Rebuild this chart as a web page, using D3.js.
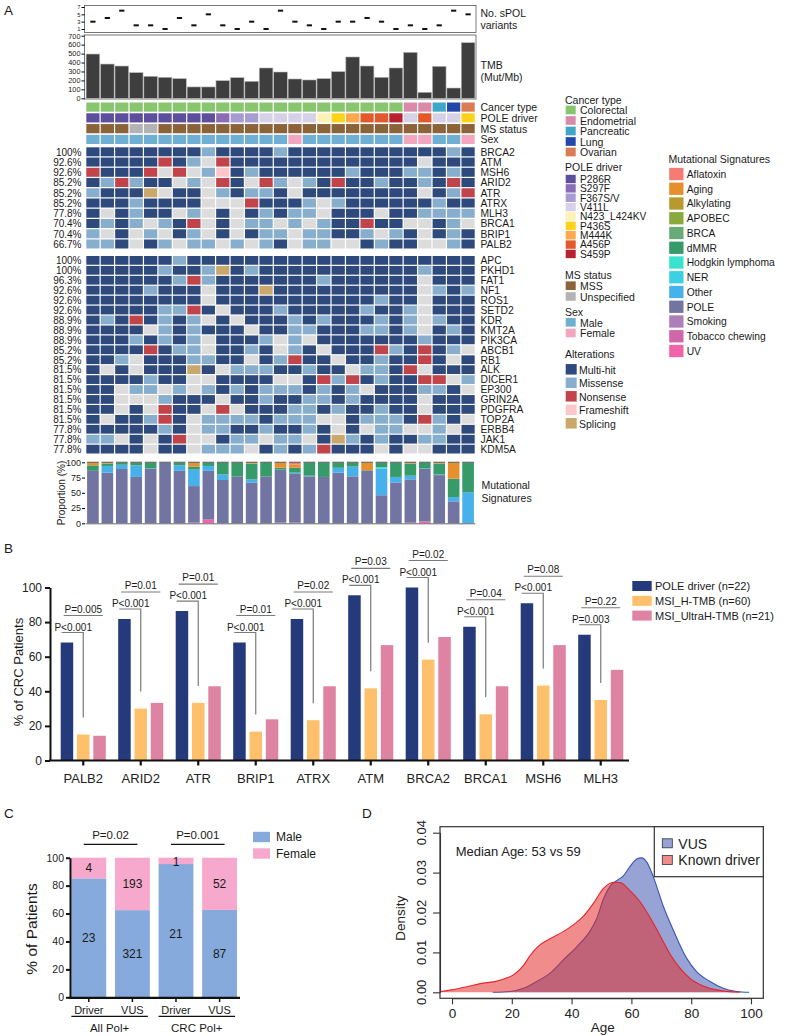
<!DOCTYPE html>
<html><head><meta charset="utf-8">
<script src="https://cdn.jsdelivr.net/npm/d3@7"></script>
<style>body{margin:0;background:#fff}svg{display:block}</style>
</head><body><svg id="chart"></svg>
<script>
// ---------------- DATA ----------------
const spolVariants = [3,4,6,2,2,1,4,2,5,2,1,3,1,6,3,2,1,3,3,4,3,1,2,1,2,6,5];
const tmb = [495,383,361,287,246,235,220,127,127,197,231,190,339,294,216,205,220,298,462,361,235,339,514,67,357,115,622];
const spolTicks = [1,3,5,7];
const tmbTicks = [0,100,200,300,400,500,600,700];
const cancerType = ['Colorectal','Colorectal','Colorectal','Colorectal','Colorectal','Colorectal','Colorectal','Colorectal','Colorectal','Colorectal','Colorectal','Colorectal','Colorectal','Colorectal','Colorectal','Colorectal','Colorectal','Colorectal','Colorectal','Colorectal','Colorectal','Colorectal','Endometrial','Endometrial','Pancreatic','Lung','Ovarian'];
const poleDriver = ['P286R','P286R','P286R','P286R','P286R','P286R','P286R','P286R','P286R','S297F','F367S/V','F367S/V','V411L','V411L','V411L','V411L','N423_L424KV','P436S','M444K','A456P','A456P','S459P','V411L','A456P','V411L','V411L','P436S'];
const msStatus = ['MSS','MSS','MSS','Unspecified','Unspecified','MSS','MSS','MSS','MSS','MSS','MSS','MSS','MSS','MSS','MSS','MSS','MSS','MSS','MSS','MSS','MSS','MSS','MSS','MSS','MSS','MSS','MSS'];
const sex = ['Male','Male','Male','Male','Male','Male','Male','Male','Male','Male','Male','Male','Male','Male','Female','Male','Male','Male','Male','Male','Male','Male','Female','Female','Male','Male','Female'];

const genes1 = ['BRCA2','ATM','MSH6','ARID2','ATR','ATRX','MLH3','BRCA1','BRIP1','PALB2'];
const pct1 = ['100%','92.6%','92.6%','85.2%','85.2%','85.2%','77.8%','70.4%','70.4%','66.7%'];
// M=Multi-hit S=Missense N=Nonsense F=Frameshift P=Splicing 0=none
const alt1 = [
'MMMMMMMMSMMMMSMMMMMMMMMMMSM',
'MMMMMNMS0NMMMMMMMMMMMMM0MMM',
'NMMMN0N0SFMSMMMMMMSMMMSSMSM',
'MSNSMM0S0NM0NS0SMNMMSMMSMNM',
'SMMMP0MM0SMSSM0MMMMMMMM0MSN',
'MMMSMMMM000NMMMS0SMMMMMMSMM',
'M0MSMM0S0M0MSMSS0MMM0MMSSSS',
'MSMS0SMN0M0SS0S0SMMNMM00MS0',
'S0M0S0MS0M0MSS0SSMMS0SM0MSM',
'SSM0MS0SS0S0SM0SS00MSMM00SM'];
const genes2 = ['APC','PKHD1','FAT1','NF1','ROS1','SETD2','KDR','KMT2A','PIK3CA','ABCB1','RB1','ALK','DICER1','EP300','GRIN2A','PDGFRA','TOP2A','ERBB4','JAK1','KDM5A'];
const pct2 = ['100%','100%','96.3%','92.6%','92.6%','92.6%','88.9%','88.9%','88.9%','85.2%','85.2%','81.5%','81.5%','81.5%','81.5%','81.5%','81.5%','77.8%','77.8%','77.8%'];
const alt2 = [
'MMMMMMSMMMMMMMMMMMMMMMMMMMM',
'MMMMMSMMSPMSMMMMMMMMMMMSMMM',
'MMMMMMSNSMMMMMMMSMMMMMM0MMM',
'MMMMSMMM0MMMPMMMMMMMMMM0SMS',
'MMMMMMMM0MMMMMMMMMMMSMM0MMM',
'MMMMMSSNM0MMMSMMMMMSMMS0MMM',
'MSMNMSMS0M0MMMSMSMMMSMS0SMM',
'MMMM0SMSMMM0MMSSMMMSSMS0MSM',
'MMMSMSMS0MMMS0S0MMMMMMMSMMM',
'MMMMNMSS0MMSM0SM0MMMNSMNMS0',
'MMS0MMMSSMM0MSNMM0MMSMMNM0M',
'M0M0MMMPM0SSSMMSMM0SSMN0MMM',
'MMMMSMM00MMMM00MNSNMSMMNN0S',
'MM0SS0S0SMSMSSSMSMS0MMMSSM0',
'MM000SMMM0MMSMMSSMSMMMM0MMM',
'MM0M0NMM0N0MMMSSMSMMSMM0MMM',
'M0MMSNM0SSSSMSSS00MSSSMNSM0',
'MMMMMSM0SSMMSMMSM0M0SS00S0M',
'SS0M0MN00MSS0SS0MPSMSMMSSMM',
'MMMM0MM0SSS0MSMSNMMM0M00MMM'];

const sigUV       = [0,0,0,0,0,0,0,1,6,0,0,0,0,1,1,0,0,0,0,0,0,0,1,3,0,0,0];
const sigPOLE     = [86,83,89,76,89,99,86,60,80,71,77,67,77,87,80,77,76,83,77,86,46,67,71,86,79,36,0];
const sigOther    = [0,11,7,19,1,0,9,27,8,9,0,5,0,0,2,1,0,8,16,0,44,9,6,1,1,7,51];
const sigHodgkin  = [0,0,0,0,0,0,0,0,0,0,0,0,0,0,0,0,0,0,0,0,2,0,0,0,0,0,0];
const sigDMMR     = [9,4,3,4,9,1,4,5,5,20,22,26,23,3,8,22,24,8,6,1,8,23,20,10,18,30,49];
const sigAging    = [5,2,1,1,1,0,1,7,1,0,1,2,0,9,5,0,0,1,1,13,0,1,2,0,2,27,0];
const sigAflatoxin= [0,0,0,0,0,0,0,0,0,0,0,0,0,0,4,0,0,0,0,0,0,0,0,0,0,0,0];
const sigTicks = [0,25,50,75,100];

const cancerTypes = ['Colorectal','Endometrial','Pancreatic','Lung','Ovarian'];
const cancerColors = ['#87c56f','#d98aa9','#3fa6c6','#2148a8','#da7b55'];
const poleDrivers = ['P286R','S297F','F367S/V','V411L','N423_L424KV','P436S','M444K','A456P','S459P'];
const poleColors = ['#5d4e9e','#8b6cb7','#a69cd1','#d7d1e7','#fcf2b6','#fdd218','#fca84b','#e4592b','#b8212e'];
const msStatuses = ['MSS','Unspecified'];
const msColors = ['#8c6239','#b3b3b5'];
const sexes = ['Male','Female'];
const sexColors = ['#6fafd4','#f3a7be'];
const alterTypes = ['Multi-hit','Missense','Nonsense','Frameshift','Splicing'];
const alterCodes = ['M','S','N','F','P'];
const alterColors = ['#2e4a7c','#87afcd','#c1444b','#fcc6ca','#caa86b'];
const noneColor = '#dcdcdc';
const sigNames = ['Aflatoxin','Aging','Alkylating','APOBEC','BRCA','dMMR','Hodgkin lymphoma','NER','Other','POLE','Smoking','Tobacco chewing','UV'];
const sigColors = ['#f47c73','#e6902d','#b8992f','#88a93c','#69aa79','#379a69','#37e3cd','#3dcfe3','#46b1ea','#7274a1','#ae7eb9','#cf66a7','#f064a9'];

// Panel B
const genesB = ['PALB2','ARID2','ATR','BRIP1','ATRX','ATM','BRCA2','BRCA1','MSH6','MLH3'];
const poleDriverPct = [68.2,81.8,86.4,68.2,81.8,95.5,100,77.3,90.9,72.7];
const msiHPct = [15,30,33.3,16.7,23.3,41.7,58.3,26.7,43.3,35];
const msiUltraPct = [14.3,33.3,42.9,23.8,42.9,66.7,71.4,42.9,66.7,52.4];
const pLower = ['P<0.001','P<0.001','P<0.001','P<0.001','P<0.001','P<0.001','P<0.001','P<0.001','P<0.001','P=0.003'];
const pUpper = ['P=0.005','P=0.01','P=0.01','P=0.01','P=0.02','P=0.03','P=0.02','P=0.04','P=0.08','P=0.22'];
const seriesB = ['POLE driver (n=22)','MSI_H-TMB (n=60)','MSI_UltraH-TMB (n=21)'];
const colorsB = ['#243a7a','#fec06a','#df83a3'];
const ticksB = [0,20,40,60,80,100];

// Panel C
const barsC = ['Driver','VUS','Driver','VUS'];
const cohortC = ['All Pol+','CRC Pol+'];
const maleN = [23,321,21,87];
const femaleN = [4,193,1,52];
const pC = ['P=0.02','P=0.001'];
const ticksC = [0,20,40,60,80,100];

// Panel D
const vusAge = [13.6,19.4,23.9,28.3,32.8,37.2,41.7,46.2,48.4,50.6,52.8,55.1,57.3,59.5,61.8,63.4,65.1,67.3,70.7,74,78.5,81.8,86.3,90.7,95.2,99.4];
const vusDensity = [0,0.0002,0.001,0.0027,0.0048,0.0081,0.0114,0.0154,0.0185,0.0233,0.0265,0.028,0.0292,0.0315,0.0334,0.0337,0.0327,0.029,0.0215,0.0156,0.0085,0.0052,0.0027,0.001,0.0002,0];
const knownAge = [-4,0,6,10.5,15,18,21,24,26,29.4,32.8,37.2,40.6,43.9,47.3,50.6,54,56.2,59.5,62.9,66.2,69.6,72.9,76.3,79.6,84,88.5,96.3];
const knownDensity = [0.0002,0.0006,0.0016,0.0023,0.0028,0.0035,0.0046,0.0068,0.0091,0.0119,0.0134,0.0152,0.0169,0.019,0.0223,0.026,0.0276,0.0275,0.0255,0.0227,0.0188,0.0142,0.0096,0.006,0.0035,0.0016,0.0006,0];
const ticksDx = [0,20,40,60,80,100];
const ticksDy = [0,0.01,0.02,0.03,0.04];

// ---------------- DRAW ----------------
const F = '"Liberation Sans", Arial, Helvetica, sans-serif';
const svg = d3.select('#chart').attr('width',787).attr('height',1036).attr('font-family',F);
function T(g,x,y,s,size,anchor,fill){
  return g.append('text').attr('x',x).attr('y',y).text(s).attr('font-size',size)
    .attr('text-anchor',anchor||'start').attr('dominant-baseline','central').attr('fill',fill||'#1a1a1a');
}
function styleAxis(g,size,keepDomain){
  if(!keepDomain) g.select('.domain').remove();
  g.selectAll('text').attr('font-family',F).attr('font-size',size).attr('fill','#222');
}

// Panel letters
T(svg,4,10,'A',13.5); T(svg,4,548,'B',13.5); T(svg,4,813,'C',13.5); T(svg,362,813,'D',13.5);

// ---- Panel A ----
const A = svg.append('g');
const xA = d3.scaleBand().domain(d3.range(27)).range([85.7,475.3]);
const bw = xA.bandwidth();

// sPOL variants
const ySp = d3.scaleLinear().domain([1,7]).range([29,7]);
A.append('rect').attr('x',84.5).attr('y',5.5).attr('width',391.5).attr('height',27).attr('fill','none').attr('stroke','#555').attr('stroke-width',0.8);
const gSp = A.append('g').attr('transform','translate(84.5,0)').call(d3.axisLeft(ySp).tickValues(spolTicks).tickFormat(d3.format('d')).tickSize(3).tickPadding(1));
styleAxis(gSp,5.8);
gSp.selectAll('text').attr('dy',d=>d===1?1.3:1.86);
A.append('g').selectAll('rect').data(spolVariants).join('rect')
  .attr('x',(d,i)=>xA(i)+bw/2-2.6).attr('y',d=>ySp(d)-1).attr('width',5.2).attr('height',2).attr('fill','#111');
T(A,480.5,12.5,'No. sPOL',10.5); T(A,480.5,25,'variants',10.5);

// TMB
const yT = d3.scaleLinear().domain([0,700]).range([98.3,35.7]);
A.append('rect').attr('x',84.5).attr('y',35).attr('width',391.5).attr('height',64).attr('fill','none').attr('stroke','#555').attr('stroke-width',0.8);
const gT = A.append('g').attr('transform','translate(84.5,0)').call(d3.axisLeft(yT).tickValues(tmbTicks).tickSize(3).tickPadding(1));
styleAxis(gT,7.3);
gT.selectAll('text').attr('dy',d=>d===700?2.85:2.34);
A.append('g').selectAll('rect').data(tmb).join('rect')
  .attr('x',(d,i)=>xA(i)+0.4).attr('y',d=>yT(d)).attr('width',bw-0.8).attr('height',d=>yT(0)-yT(d))
  .attr('fill','#3e3e3e').attr('stroke','#b8b8b8').attr('stroke-width',0.6);
T(A,480.5,64.7,'TMB',10.5); T(A,480.5,77,'(Mut/Mb)',10.5);

// annotation rows
const annNames = ['Cancer type','POLE driver','MS status','Sex'];
const annVals = [cancerType,poleDriver,msStatus,sex];
const annScales = [d3.scaleOrdinal(cancerTypes,cancerColors),d3.scaleOrdinal(poleDrivers,poleColors),d3.scaleOrdinal(msStatuses,msColors),d3.scaleOrdinal(sexes,sexColors)];
const yAnn = d3.scaleBand().domain(annNames).range([102.5,144]).paddingInner(0.15);
annNames.forEach((nm,k)=>{
  A.append('g').selectAll('rect').data(annVals[k]).join('rect')
    .attr('x',(d,i)=>xA(i)+0.6).attr('y',yAnn(nm)).attr('width',bw-1.2).attr('height',yAnn.bandwidth())
    .attr('fill',d=>annScales[k](d));
  T(A,480.5,yAnn(nm)+yAnn.bandwidth()/2,nm,10.5);
});

// heatmap blocks
const altColor = d3.scaleOrdinal(alterCodes,alterColors).unknown(noneColor);
function block(genes,pcts,alts,y0,y1){
  const yG = d3.scaleBand().domain(genes).range([y0,y1]).paddingInner(0.12);
  genes.forEach((gn,r)=>{
    A.append('g').selectAll('rect').data(alts[r].split('')).join('rect')
      .attr('x',(d,i)=>xA(i)+0.6).attr('y',yG(gn)).attr('width',bw-1.2).attr('height',yG.bandwidth())
      .attr('fill',d=>altColor(d));
    T(A,480.5,yG(gn)+yG.bandwidth()/2+0.3,gn,10.3);
    T(A,81.5,yG(gn)+yG.bandwidth()/2+0.3,pcts[r],10,'end');
  });
}
block(genes1,pct1,alt1,147.3,248.5);
block(genes2,pct2,alt2,256,453.5);

// mutational signatures
const sigKeys = ['UV','POLE','Other','Hodgkin lymphoma','dMMR','Aging','Aflatoxin'];
const sigArrays = [sigUV,sigPOLE,sigOther,sigHodgkin,sigDMMR,sigAging,sigAflatoxin];
const sigRows = d3.range(27).map(i=>{const o={i}; sigKeys.forEach((k,j)=>o[k]=sigArrays[j][i]); return o;});
const stack = d3.stack().keys(sigKeys)(sigRows);
const sigColor = d3.scaleOrdinal(sigNames,sigColors);
const ySig = d3.scaleLinear().domain([0,100]).range([523.3,462.3]);
stack.forEach(layer=>{
  A.append('g').attr('fill',sigColor(layer.key)).selectAll('rect').data(layer).join('rect')
    .attr('x',(d,i)=>xA(i)+1.4).attr('width',bw-2.8)
    .attr('y',d=>ySig(d[1])).attr('height',d=>Math.max(0,ySig(d[0])-ySig(d[1])));
});
A.append('g').selectAll('rect').data(d3.range(27)).join('rect')
  .attr('x',i=>xA(i)+1.4).attr('width',bw-2.8).attr('y',ySig(100)-0.6).attr('height',1.2).attr('fill','#6b6b6b');
A.append('line').attr('x1',85.7).attr('x2',475.3).attr('y1',ySig(0)+0.5).attr('y2',ySig(0)+0.5).attr('stroke','#666').attr('stroke-width',1);
const gSig = A.append('g').attr('transform','translate(85,0)').call(d3.axisLeft(ySig).tickValues(sigTicks).tickSize(3).tickPadding(1));
styleAxis(gSig,9);
A.append('text').attr('transform','translate(64.5,493) rotate(-90)').attr('text-anchor','middle').attr('font-size',10).attr('fill','#222').text('Proportion (%)');
T(A,481.5,485,'Mutational',10.5); T(A,481.5,498.3,'Signatures',10.5);

// legends A
function legend(title,tx,ty,names,colors,y0,step,sw,sh,textX,size){
  T(A,tx,ty,title,10.5);
  names.forEach((n,k)=>{
    const cy = y0+k*step;
    A.append('rect').attr('x',tx+0.7).attr('y',cy-sh/2).attr('width',sw).attr('height',sh).attr('fill',colors[k]);
    T(A,textX,cy+0.3,n,size||10.5);
  });
}
legend('Cancer type',565,99.5,cancerTypes,cancerColors,110,10.5,10,8.7,580);
legend('POLE driver',565,166.7,poleDrivers,poleColors,179,9.37,10,8.4,580,10.2);
legend('MS status',565,275,msStatuses,msColors,285.7,10.8,10,8.6,580);
legend('Sex',565,311.7,sexes,sexColors,322.3,10.7,10,8.6,580);
legend('Alterations',565,354.3,alterTypes,alterColors,369.3,13.5,11,10.5,579);
legend('Mutational Signatures',668.5,159,sigNames,sigColors,174,14.75,14.3,12.3,686.7,10.3);

// ---- Panel B ----
const B = svg.append('g');
const xB = d3.scaleBand().domain(genesB).range([54.5,629.5]);
const xSub = d3.scaleBand().domain([0,1,2]).range([6.2,51.3]).paddingInner(0.233);
const sbw = xSub.bandwidth();
const yB = d3.scaleLinear().domain([0,100]).range([760.5,587.5]);
const seriesVals = [poleDriverPct,msiHPct,msiUltraPct];
seriesVals.forEach((vals,s)=>{
  B.append('g').attr('fill',colorsB[s]).selectAll('rect').data(vals).join('rect')
    .attr('x',(d,i)=>xB(genesB[i])+xSub(s)).attr('width',sbw)
    .attr('y',d=>yB(d)).attr('height',d=>yB(0)-yB(d));
});
// brackets
genesB.forEach((g,i)=>{
  const x0 = xB(g)+xSub(0), xn = x0+sbw, xy = xB(g)+xSub(1)+sbw/2, x1 = xB(g)+xSub(2)+sbw;
  const ly = yB(poleDriverPct[i])-10, uy = ly-17;
  B.append('path').attr('d',`M${x0+1},${ly}H${xy}V${yB(msiHPct[i])-17}`).attr('fill','none').attr('stroke','#7a7a7a').attr('stroke-width',1.2);
  B.append('text').attr('x',xn).attr('y',ly-2).attr('text-anchor','middle').attr('font-size',10).attr('fill','#1a1a1a').text(pLower[i]);
  B.append('line').attr('x1',x0+3).attr('x2',x1-3).attr('y1',uy).attr('y2',uy).attr('stroke','#7a7a7a').attr('stroke-width',1.2);
  B.append('text').attr('x',(x0+x1)/2).attr('y',uy-3).attr('text-anchor','middle').attr('font-size',10).attr('fill','#1a1a1a').text(pUpper[i]);
});
const gBy = B.append('g').attr('transform','translate(50,0)').call(d3.axisLeft(yB).tickValues(ticksB).tickSize(5).tickSizeOuter(0).tickPadding(3));
styleAxis(gBy,12,true);
gBy.selectAll('line,path').attr('stroke','#111').attr('stroke-width',2);
const gBx = B.append('g').attr('transform','translate(0,760.5)').call(d3.axisBottom(xB).tickSize(5).tickSizeOuter(0).tickPadding(8));
gBx.select('.domain').attr('d','M49,0H629');
styleAxis(gBx,13,true);
gBx.selectAll('line,path').attr('stroke','#111').attr('stroke-width',2.2);
B.append('text').attr('transform','translate(23,672) rotate(-90)').attr('text-anchor','middle').attr('font-size',13).attr('fill','#1a1a1a').text('% of CRC Patients');
seriesB.forEach((s,k)=>{
  const cy = 586+k*14.8;
  B.append('rect').attr('x',632.3).attr('y',cy-5).attr('width',19.4).attr('height',10).attr('fill',colorsB[k]);
  T(B,655,cy+0.3,s,11);
});

// ---- Panel C ----
const C = svg.append('g');
const xC = d3.scaleBand().domain(d3.range(4)).range([67,241.4]).paddingInner(0.2).paddingOuter(0.1);
const cbw = xC.bandwidth();
const yC = d3.scaleLinear().domain([0,100]).range([997.3,857.7]);
const malePct = maleN.map((m,i)=>100*m/(m+femaleN[i]));
C.append('g').selectAll('rect').data(malePct).join('rect')
  .attr('x',(d,i)=>xC(i)).attr('width',cbw).attr('y',d=>yC(d)).attr('height',d=>yC(0)-yC(d)).attr('fill','#85aadb');
C.append('g').selectAll('rect').data(malePct).join('rect')
  .attr('x',(d,i)=>xC(i)).attr('width',cbw).attr('y',yC(100)).attr('height',d=>yC(d)-yC(100)).attr('fill','#f6a9cc');
malePct.forEach((p,i)=>{
  const cx = xC(i)+cbw/2;
  T(C,cx,(yC(p)+yC(0))/2+(i===2?3:0),maleN[i],12,'middle');
  T(C,cx,(yC(p)+yC(100))/2+(i===2?1:0),femaleN[i],12,'middle');
});
const gCy = C.append('g').attr('transform','translate(70,0)').call(d3.axisLeft(yC).tickValues(ticksC).tickSize(4).tickSizeOuter(0).tickPadding(2));
styleAxis(gCy,10.5,true);
gCy.selectAll('line,path').attr('stroke','#111').attr('stroke-width',2);
C.append('line').attr('x1',69).attr('x2',240).attr('y1',997.8).attr('y2',997.8).attr('stroke','#111').attr('stroke-width',2.2);
barsC.forEach((b,i)=>{
  const cx = xC(i)+cbw/2;
  C.append('line').attr('x1',cx).attr('x2',cx).attr('y1',998).attr('y2',1002).attr('stroke','#111').attr('stroke-width',1.5);
  T(C,cx,1009.5,b,11,'middle');
});
cohortC.forEach((c,k)=>{
  const xa = xC(2*k), xb = xC(2*k+1)+cbw-2;
  C.append('line').attr('x1',xa).attr('x2',xb).attr('y1',1016.3).attr('y2',1016.3).attr('stroke','#111').attr('stroke-width',1.2);
  T(C,(xa+xb)/2,1027.5,c,11.5,'middle');
  const la = xC(2*k)+cbw/2-5, lb = xC(2*k+1)+cbw/2+5;
  C.append('line').attr('x1',la).attr('x2',lb).attr('y1',844.3).attr('y2',844.3).attr('stroke','#111').attr('stroke-width',1.2);
  T(C,(la+lb)/2,834.5,pC[k],11.5,'middle');
});
C.append('text').attr('transform','translate(37,929) rotate(-90)').attr('text-anchor','middle').attr('font-size',15.5).attr('fill','#1a1a1a').text('% of Patients');
[['Male','#85aadb'],['Female','#f6a9cc']].forEach((d,k)=>{
  const cy = 837+k*16.5;
  C.append('rect').attr('x',253).attr('y',cy-5.2).attr('width',17).attr('height',10.4).attr('fill',d[1]);
  T(C,276,cy+0.3,d[0],12);
});

// ---- Panel D ----
const D = svg.append('g');
const xD = d3.scaleLinear().domain([0,100]).range([452,751]);
const yD = d3.scaleLinear().domain([0,0.04]).range([992.3,832.7]);
const area = d3.area().x(d=>xD(d[0])).y0(yD(0)).y1(d=>yD(d[1])).curve(d3.curveMonotoneX);
const line = d3.line().x(d=>xD(d[0])).y(d=>yD(d[1])).curve(d3.curveMonotoneX);
const vusPts = vusAge.map((a,i)=>[a,vusDensity[i]]);
const knownPts = knownAge.map((a,i)=>[a,knownDensity[i]]);
D.append('path').attr('d',area(vusPts)).attr('fill','rgba(62,85,175,0.54)');
D.append('path').attr('d',line(vusPts)).attr('fill','none').attr('stroke','#3a55b3').attr('stroke-width',1.1);
D.append('path').attr('d',area(knownPts)).attr('fill','rgba(227,42,42,0.54)');
D.append('path').attr('d',line(knownPts)).attr('fill','none').attr('stroke','#e8232a').attr('stroke-width',1.1);
D.append('rect').attr('x',440).attr('y',826.7).attr('width',323.3).attr('height',171.6).attr('fill','none').attr('stroke','#333').attr('stroke-width',1.2);
const gDx = D.append('g').attr('transform','translate(0,998.3)').call(d3.axisBottom(xD).tickValues(ticksDx).tickSize(6).tickSizeOuter(0).tickPadding(4));
styleAxis(gDx,13.5,true);
gDx.selectAll('line,path').attr('stroke','#333').attr('stroke-width',1.1);
const gDy = D.append('g').attr('transform','translate(440,0)').call(d3.axisLeft(yD).tickValues(ticksDy).tickSize(7).tickSizeOuter(0).tickFormat(d3.format('.2f')));
gDy.selectAll('line,path').attr('stroke','#333').attr('stroke-width',1.1);
gDy.selectAll('text').remove();
ticksDy.forEach(t=>{
  D.append('text').attr('transform',`translate(421.7,${yD(t)}) rotate(-90)`).attr('text-anchor','middle').attr('dominant-baseline','central').attr('font-size',13).attr('fill','#222').text(d3.format('.2f')(t));
});
D.append('text').attr('transform','translate(400,918.3) rotate(-90)').attr('text-anchor','middle').attr('dominant-baseline','central').attr('font-size',13.5).attr('fill','#222').text('Density');
T(D,602.7,1027.7,'Age',13.5,'middle','#222');
T(D,455.7,851.7,'Median Age: 53 vs 59',13,'start','#222');
D.append('rect').attr('x',654.3).attr('y',826.7).attr('width',109).attr('height',50).attr('fill','#fff').attr('stroke','#333').attr('stroke-width',1.2);
[['VUS','rgba(62,85,175,0.54)','#3a55b3'],['Known driver','rgba(227,42,42,0.54)','#e8232a']].forEach((d,k)=>{
  const cy = 843.3+k*16.7;
  D.append('rect').attr('x',662.3).attr('y',cy-4.5).attr('width',10).attr('height',9).attr('fill',d[1]).attr('stroke','#333').attr('stroke-width',0.8);
  T(D,678.3,cy+0.3,d[0],14,'start','#222');
});
</script></body></html>
